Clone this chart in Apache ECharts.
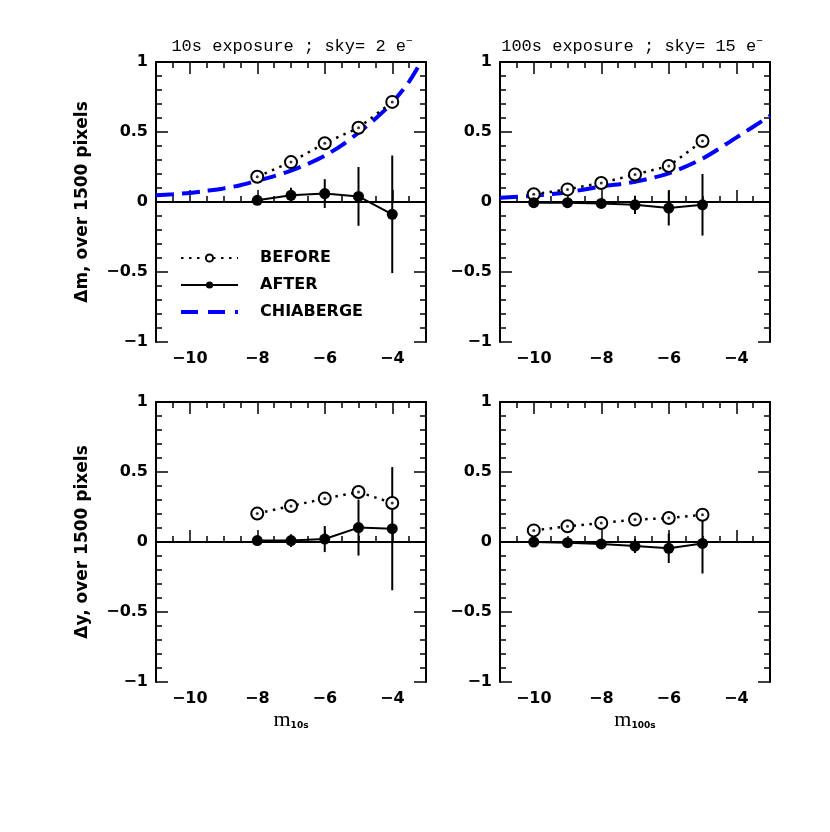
<!DOCTYPE html>
<html>
<head>
<meta charset="utf-8">
<script src="https://cdn.jsdelivr.net/npm/echarts@6/dist/echarts.min.js"></script>
<style>html,body{margin:0;background:#fff}#chart{width:830px;height:832px}</style>
</head>
<body>
<div id="chart"></div>
<script>
// magnitude bins
const magsShort = [-8, -7, -6, -5, -4];
const magsLong = [-10, -9, -8, -7, -6, -5];

// delta m, 10s exposure
const dmShortBefore = [0.18, 0.285, 0.42, 0.53, 0.715];
const dmShortAfter = [0.012, 0.048, 0.06, 0.04, -0.088];
const dmShortErr = [0.02, 0.053, 0.103, 0.21, 0.42];

// delta m, 100s exposure
const dmLongBefore = [0.055, 0.09, 0.136, 0.196, 0.257, 0.436];
const dmLongAfter = [-0.005, -0.005, -0.01, -0.02, -0.043, -0.02];
const dmLongErr = [0.012, 0.012, 0.015, 0.065, 0.125, 0.22];

// delta y, 10s exposure
const dyShortBefore = [0.203, 0.257, 0.31, 0.357, 0.279];
const dyShortAfter = [0.01, 0.01, 0.021, 0.103, 0.095];
const dyShortErr = [0.02, 0.045, 0.093, 0.2, 0.44];

// delta y, 100s exposure
const dyLongBefore = [0.083, 0.112, 0.136, 0.16, 0.171, 0.195];
const dyLongAfter = [0, -0.005, -0.014, -0.029, -0.045, -0.01];
const dyLongErr = [0.012, 0.012, 0.015, 0.05, 0.105, 0.215];

// Chiaberge curve
const chiaShortX = [-11, -10.5, -10, -9.5, -9, -8.5, -8, -7.5, -7, -6.5, -6, -5.5, -5, -4.5, -4, -3.5, -3.15];
const chiaShortY = [0.048, 0.056, 0.065, 0.08, 0.097, 0.12, 0.152, 0.185, 0.224, 0.272, 0.33, 0.405, 0.495, 0.595, 0.71, 0.86, 1.0];
const chiaLongX = [-11, -10, -9, -8, -7, -6, -5, -4, -3];
const chiaLongY = [0.03, 0.045, 0.07, 0.11, 0.145, 0.205, 0.31, 0.46, 0.615];

// axis ticks
const xMajorTicks = [-10, -8, -6, -4];
const yTicks = [-1, -0.5, 0, 0.5, 1];

const font = 'DejaVu Sans';
const minus = v => (v < 0 ? '\u2212' + Math.abs(v) : String(v));
const zip = (xs, ys) => xs.map((x, k) => [x, ys[k]]);

const panels = [
  {left: 156, top: 62, mags: magsShort, before: dmShortBefore, after: dmShortAfter, err: dmShortErr,
   curveX: chiaShortX, curveY: chiaShortY, yName: 'Δm, over 1500 pixels'},
  {left: 500, top: 62, mags: magsLong, before: dmLongBefore, after: dmLongAfter, err: dmLongErr,
   curveX: chiaLongX, curveY: chiaLongY},
  {left: 156, top: 402, mags: magsShort, before: dyShortBefore, after: dyShortAfter, err: dyShortErr,
   yName: 'Δy, over 1500 pixels', xSub: '10s'},
  {left: 500, top: 402, mags: magsLong, before: dyLongBefore, after: dyLongAfter, err: dyLongErr,
   xSub: '100s'}
];

const grid = [], xAxis = [], yAxis = [], series = [];
const axisLine = {show: true, lineStyle: {color: '#000', width: 2}};
const noLine = {show: false};
const tick = len => ({show: true, inside: true, length: len, lineStyle: {color: '#000', width: 1.5}});
const labelStyle = {fontFamily: font, fontWeight: 'bold', fontSize: 16, color: '#000', formatter: minus};

panels.forEach((p, i) => {
  grid.push({left: p.left, top: p.top, width: 270, height: 280});
  const base = {type: 'value', gridIndex: i, min: -11, max: -3, splitLine: {show: false}};
  // bottom: minor ticks + labels
  const bottom = Object.assign({}, base, {
    position: 'bottom', interval: 0.5, axisLine: axisLine, axisTick: tick(6),
    axisLabel: Object.assign({customValues: xMajorTicks, margin: 9}, labelStyle)
  });
  if (p.xSub) {
    bottom.name = '{m|m}{s|' + p.xSub + '}';
    bottom.nameLocation = 'middle';
    bottom.nameGap = 27;
    bottom.nameTextStyle = {color: '#000', rich: {
      m: {fontFamily: 'Liberation Serif', fontSize: 22, color: '#000'},
      s: {fontFamily: font, fontWeight: 'bold', fontSize: 9, color: '#000', padding: [12, 0, 0, 0]}
    }};
  }
  xAxis.push(bottom);
  xAxis.push(Object.assign({}, base, {position: 'bottom', interval: 0.5, axisLine: noLine,
    axisTick: Object.assign(tick(12), {customValues: xMajorTicks}), axisLabel: {show: false}}));
  xAxis.push(Object.assign({}, base, {position: 'top', interval: 0.5, axisLine: axisLine,
    axisTick: tick(6), axisLabel: {show: false}}));
  xAxis.push(Object.assign({}, base, {position: 'top', interval: 0.5, axisLine: noLine,
    axisTick: Object.assign(tick(12), {customValues: xMajorTicks}), axisLabel: {show: false}}));

  const ybase = {type: 'value', gridIndex: i, min: -1, max: 1, interval: 0.5, splitLine: {show: false},
    axisLine: axisLine, axisTick: tick(12),
    minorTick: {show: true, splitNumber: 5, length: 6, lineStyle: {color: '#000', width: 1.5}}};
  const left = Object.assign({}, ybase, {position: 'left',
    axisLabel: Object.assign({customValues: yTicks, margin: 8}, labelStyle)});
  if (p.yName) {
    left.name = p.yName;
    left.nameLocation = 'middle';
    left.nameGap = 65;
    left.nameTextStyle = {fontFamily: font, fontWeight: 'bold', fontSize: 17, color: '#000'};
  }
  yAxis.push(left);
  yAxis.push(Object.assign({}, ybase, {position: 'right', axisLabel: {show: false}}));

  const xi = 4 * i, yi = 2 * i;
  if (p.curveX) {
    series.push({name: 'CHIABERGE', type: 'line', xAxisIndex: xi, yAxisIndex: yi,
      data: zip(p.curveX, p.curveY), smooth: 0.3, symbol: 'none', silent: true, z: 1,
      itemStyle: {color: '#0000ff'},
      lineStyle: {color: '#0000ff', width: 4, type: [18, 8]}});
  }
  series.push({type: 'custom', name: 'err', xAxisIndex: xi, yAxisIndex: yi, silent: true, z: 2,
    data: p.mags.map((m, k) => [m, p.after[k], p.err[k]]),
    encode: {x: 0, y: 1},
    renderItem: (params, api) => {
      const x = api.value(0), y = api.value(1), e = api.value(2);
      const a = api.coord([x, y + e]), b = api.coord([x, y - e]);
      return {type: 'line', shape: {x1: a[0], y1: a[1], x2: b[0], y2: b[1]},
        style: {stroke: '#000', lineWidth: 2}};
    }});
  series.push({name: 'BEFORE', type: 'line', xAxisIndex: xi, yAxisIndex: yi,
    data: zip(p.mags, p.before), symbol: 'circle', symbolSize: 12, z: 3, silent: true,
    itemStyle: {color: '#fff', borderColor: '#000', borderWidth: 2},
    lineStyle: {color: '#000', width: 2.5, type: [2.5, 5.5]}});
  series.push({name: 'before-centre', type: 'scatter', xAxisIndex: xi, yAxisIndex: yi,
    data: zip(p.mags, p.before), symbolSize: 3, z: 4, silent: true, itemStyle: {color: '#000'}});
  series.push({name: 'AFTER', type: 'line', xAxisIndex: xi, yAxisIndex: yi,
    data: zip(p.mags, p.after), symbol: 'circle', symbolSize: 11, z: 3, silent: true,
    itemStyle: {color: '#000'}, lineStyle: {color: '#000', width: 2},
    markLine: {silent: true, symbol: 'none', label: {show: false}, animation: false,
      lineStyle: {color: '#000', width: 1, type: 'solid'}, data: [{yAxis: 0}]}});
});

const titleStyle = (text, x) => ({type: 'text', x: x, y: 46, style: {
  text: text, fontFamily: 'Liberation Mono', fontSize: 17, fill: '#000',
  align: 'center', verticalAlign: 'middle', textAlign: 'center', textVerticalAlign: 'middle',
  rich: {sup: {fontFamily: 'Liberation Mono', fontSize: 11, fill: '#000', padding: [0, 0, 9, 0]}}
}});

const chart = echarts.init(document.getElementById('chart'));
chart.setOption({
  animation: false,
  backgroundColor: '#fff',
  grid: grid,
  xAxis: xAxis,
  yAxis: yAxis,
  legend: {
    data: ['BEFORE', 'AFTER',
      {name: 'CHIABERGE', icon: 'path://M0,0H17V4H0Z M27,0H44V4H27Z M54,0H57V4H54Z'}],
    orient: 'vertical', left: 180, top: 250, padding: 0, itemWidth: 57, itemHeight: 9, itemGap: 11,
    symbolKeepAspect: true, selectedMode: false,
    textStyle: {fontFamily: font, fontWeight: 'bold', fontSize: 16, color: '#000',
      lineHeight: 16, padding: [0, 0, 0, 17]}
  },
  graphic: [
    titleStyle('10s exposure ; sky= 2 e{sup|\u2212}', 292),
    titleStyle('100s exposure ; sky= 15 e{sup|\u2212}', 632)
  ],
  series: series
});
</script>
</body>
</html>
